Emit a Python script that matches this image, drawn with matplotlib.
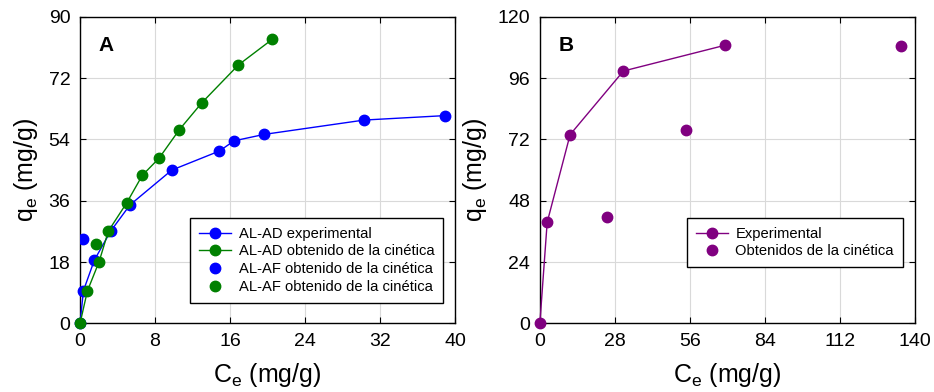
import matplotlib
matplotlib.use('Agg')
import matplotlib.pyplot as plt

plt.rcParams['font.family'] = ['Liberation Sans', 'DejaVu Sans']
plt.rcParams['mathtext.default'] = 'regular'

# Panel A
ad_exp_x = [0, 0.36, 1.53, 3.27, 5.33, 9.78, 14.86, 16.43, 19.66, 30.3, 38.9]
ad_exp_y = [0, 9.6, 18.6, 27.1, 34.8, 45.0, 50.6, 53.6, 55.5, 59.7, 61.0]
ad_kin_x = [0, 0.78, 2.03, 3.02, 4.98, 6.65, 8.43, 10.6, 13.0, 16.9, 20.5]
ad_kin_y = [0, 9.5, 18.1, 27.1, 35.4, 43.5, 48.5, 56.9, 64.8, 75.9, 83.4]
af_blue_x = [0.28]
af_blue_y = [24.8]
af_green_x = [1.71]
af_green_y = [23.4]

# Panel B
exp_x = [0, 2.74, 11.3, 31.2, 69.2]
exp_y = [0, 39.6, 73.9, 98.8, 108.9]
kin_x = [25.0, 54.6, 134.9]
kin_y = [41.6, 75.6, 108.4]

blue = '#0000ff'
green = '#008000'
purple = '#800080'
ms = 7.5

fig = plt.figure(figsize=(9.34, 3.92), dpi=100)
axA = fig.add_axes([0.0857, 0.175, 0.4015, 0.782])
axB = fig.add_axes([0.578, 0.175, 0.4015, 0.782])

leg_kw = dict(loc='upper left', fontsize=10.6, frameon=True, fancybox=False, edgecolor='black',
              framealpha=1, handlelength=2.2, handletextpad=0.5, labelspacing=0.25, borderpad=0.6,
              borderaxespad=0)

axA.plot(ad_exp_x, ad_exp_y, '-o', color=blue, lw=1, ms=ms, label='AL-AD experimental', clip_on=False, zorder=3)
axA.plot(ad_kin_x, ad_kin_y, '-o', color=green, lw=1, ms=ms, label='AL-AD obtenido de la cinética', clip_on=False, zorder=3)
axA.plot(af_blue_x, af_blue_y, 'o', color=blue, ms=ms, label='AL-AF obtenido de la cinética', zorder=3)
axA.plot(af_green_x, af_green_y, 'o', color=green, ms=ms, label='AL-AF obtenido de la cinética', zorder=3)
axA.set_xlim(0, 40)
axA.set_ylim(0, 90)
axA.set_xticks(range(0, 41, 8))
axA.set_yticks(range(0, 91, 18))
axA.text(0.05, 0.905, 'A', transform=axA.transAxes, fontsize=15, fontweight='bold', ha='left', va='center')
axA.legend(bbox_to_anchor=(0.293, 0.344), **leg_kw)

axB.plot(exp_x, exp_y, '-o', color=purple, lw=1, ms=ms, label='Experimental', clip_on=False, zorder=3)
axB.plot(kin_x, kin_y, 'o', color=purple, ms=ms, label='Obtenidos de la cinética', zorder=3)
axB.set_xlim(0, 140)
axB.set_ylim(0, 120)
axB.set_xticks(range(0, 141, 28))
axB.set_yticks(range(0, 121, 24))
axB.text(0.05, 0.905, 'B', transform=axB.transAxes, fontsize=15, fontweight='bold', ha='left', va='center')
axB.legend(bbox_to_anchor=(0.392, 0.344), **leg_kw)

for ax in (axA, axB):
    ax.grid(True, color='#d9d9d9', lw=0.8)
    ax.set_axisbelow(True)
    ax.tick_params(direction='in', top=True, right=True, labelsize=14, length=4, pad=7)
    ax.set_xlabel('C$_e$ (mg/g)', fontsize=18, labelpad=8)
    ax.set_ylabel('q$_e$ (mg/g)', fontsize=18, labelpad=6)
    for s in ax.spines.values():
        s.set_linewidth(1)

fig.savefig('out.png', dpi=100)
